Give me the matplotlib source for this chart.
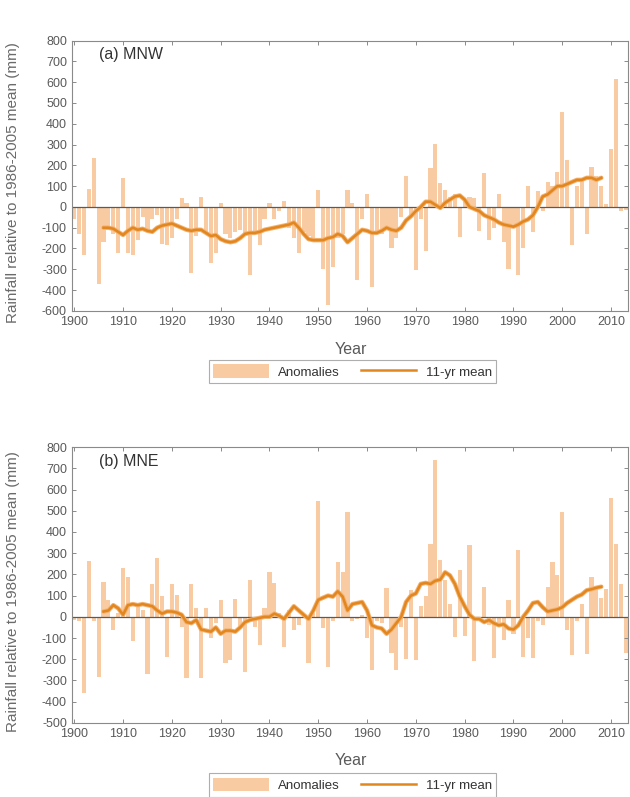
import numpy as np
import matplotlib
matplotlib.use("Agg")
import matplotlib.pyplot as plt
from matplotlib.patches import Patch
from matplotlib.lines import Line2D

plt.rcParams["font.family"] = ["Liberation Sans", "DejaVu Sans"]

# annual rainfall anomalies (mm, relative to 1986-2005 mean)
years = np.arange(1900, 2014)

mnw_anom = [
    -60, -130, -230, 85, 235, -370, -170, -110, -130, -220,      # 1900s
    140, -220, -230, -160, -50, -120, -60, -40, -180, -185,      # 1910s
    -150, -60, 45, 20, -320, -140, 50, -130, -270, -220,         # 1920s
    20, -130, -150, -120, -110, -130, -330, -120, -185, -60,     # 1930s
    20, -60, -20, 30, -100, -150, -220, -120, -140, -150,        # 1940s
    80, -300, -470, -290, -150, -130, 80, 20, -350, -60,         # 1950s
    60, -385, -120, -130, -100, -200, -150, -50, 150, -40,       # 1960s
    -305, -60, -210, 185, 305, 115, 80, 50, 60, -145,            # 1970s
    40, 50, 45, -115, 165, -160, -100, 60, -170, -300,           # 1980s
    -80, -330, -200, 100, -120, 75, -20, 120, 100, 170,          # 1990s
    455, 225, -185, 100, 130, -130, 190, 150, 100, 15,           # 2000s
    280, 615, -20, -15,                                          # 2010-2013
]

mne_anom = [
    -15, -20, -360, 265, -20, -285, 165, 80, -60, 20,
    230, 190, -115, 60, 30, -270, 155, 275, 100, -190,
    155, 105, -50, -290, 155, 40, -290, 40, -100, -30,
    80, -220, -205, 85, -50, -260, 175, -50, -135, 40,
    210, 160, 20, -140, 30, -60, -40, 10, -220, 20,
    545, -55, -235, -20, 260, 210, 495, -20, -10, 10,
    -100, -250, -20, -30, 135, -170, -250, -50, -200, 125,
    -205, 50, 100, 345, 740, 270, 175, 60, -95, 220,
    -90, 340, -210, -20, 140, -40, -195, -40, -110, 80,
    -80, 315, -190, -100, -195, -20, -40, 140, 260, 195,
    495, -60, -180, -20, 60, -175, 190, 140, 90, 130,
    560, 345, 155, -170,
]

# 11-year running means, 1906-2008
mean_years = np.arange(1906, 2009)

mnw_mean = [
    -100, -100, -105, -120, -135, -115, -100, -110, -105, -115,
    -120, -100, -90, -85, -80, -90, -100, -110, -115, -110,
    -110, -125, -140, -135, -155, -165, -170, -165, -150, -130,
    -125, -125, -120, -110, -105, -100, -95, -90, -85, -75,
    -100, -130, -155, -160, -160, -160, -150, -145, -130, -140,
    -170, -150, -130, -110, -115, -125, -125, -115, -100, -110,
    -115, -100, -65, -45, -20, 0, 25, 25, 10, -5,
    20, 35, 50, 55, 35, 0, -10, -20, -40, -50,
    -60, -75, -85, -90, -95, -85, -70, -60, -40, 0,
    50, 60, 80, 100, 100, 110, 120, 130, 130, 140,
    140, 130, 140,
]

mne_mean = [
    25, 30, 55, 40, 10, 55, 60, 55, 60, 55,
    50, 30, 15, 25, 25, 20, 10, -25, -30, -15,
    -60, -65, -70, -50, -80, -65, -65, -70, -50, -25,
    -15, -10, -5, 0, 0, 15, 5, -10, 20, 50,
    30, 10, -10, 30, 80, 90, 100, 95, 120, 95,
    30, 60, 65, 70, 30, -40, -50, -55, -80, -60,
    -30, 0, 70, 100, 110, 155, 160, 155, 170, 175,
    210, 195, 155, 95, 50, 10, -10, -10, -25, -15,
    -30, -40, -35, -55, -60, -40, 0, 30, 65, 70,
    45, 25, 30, 35, 45, 65, 80, 95, 105, 125,
    130, 137, 142,
]

panels = [
    ("(a) MNW", mnw_anom, mnw_mean,
     ["800", "700", "600", "500", "400", "300", "200", "100", "0",
      "-100", "-200", "-300", "-400", "-600"]),
    ("(b) MNE", mne_anom, mne_mean,
     ["800", "700", "600", "500", "400", "300", "200", "100", "0",
      "-100", "-200", "-300", "-400", "-500"]),
]
ytick_vals = np.arange(800, -600, -100)
xtick_vals = np.arange(1900, 2011, 10)

bar_col = "#F8CBA2"
line_col = "#E2861E"
frame_col = "#8a8a8a"
text_col = "#5a5a5a"

fig = plt.figure(figsize=(6.3, 7.97), dpi=100)
rects = [[0.114, 0.610, 0.883, 0.339],
         [0.114, 0.093, 0.883, 0.346]]
legend_y = [0.534, 0.015]
year_y = [-0.115, -0.11]

for (title, anom, mean, ylabels), rect, ly, yy in zip(panels, rects,
                                                     legend_y, year_y):
    ax = fig.add_axes(rect)
    ax.bar(years, anom, width=0.85, color=bar_col, linewidth=0, zorder=1)
    ax.axhline(0, color="#5a5a5a", lw=0.9, zorder=2)
    ax.plot(mean_years, mean, color="#F2B272", lw=3.2, zorder=3,
            solid_capstyle="round")
    ax.plot(mean_years, mean, color=line_col, lw=1.8, zorder=4)

    ax.set_xlim(1899.5, 2013.5)
    ax.set_ylim(-500, 800)
    ax.set_yticks(ytick_vals)
    ax.set_yticklabels(ylabels)
    ax.set_xticks(xtick_vals)
    ax.tick_params(direction="in", length=3, width=0.7, colors=frame_col,
                   labelcolor=text_col, labelsize=9, top=True, right=True)
    for s in ax.spines.values():
        s.set_color(frame_col)
        s.set_linewidth(0.8)

    ax.text(0.049, 0.948, title, transform=ax.transAxes, fontsize=11.5,
            color="#333333", va="center", ha="left")
    ax.set_xlabel("Year", fontsize=11.5, color=text_col)
    ax.xaxis.set_label_coords(0.502, yy)
    ax.set_ylabel("Rainfall relative to 1986-2005 mean (mm)", fontsize=11,
                  color="#6a6a6a")
    ax.yaxis.set_label_coords(-0.094, 0.475)

    handles = [Patch(facecolor=bar_col, edgecolor="none"),
               Line2D([], [], color=line_col, lw=1.8)]
    leg = fig.legend(handles, ["Anomalies", "11-yr mean"], ncol=2,
                     loc="center", bbox_to_anchor=(0.5595, ly),
                     frameon=True, fancybox=False, fontsize=9.5,
                     handlelength=4.2, handleheight=1.2, columnspacing=1.6,
                     borderpad=0.35, handletextpad=0.7)
    leg.get_frame().set_edgecolor("#9a9a9a")
    leg.get_frame().set_linewidth(0.8)
    for t in leg.get_texts():
        t.set_color("#333333")

fig.savefig("out.png", dpi=100)
